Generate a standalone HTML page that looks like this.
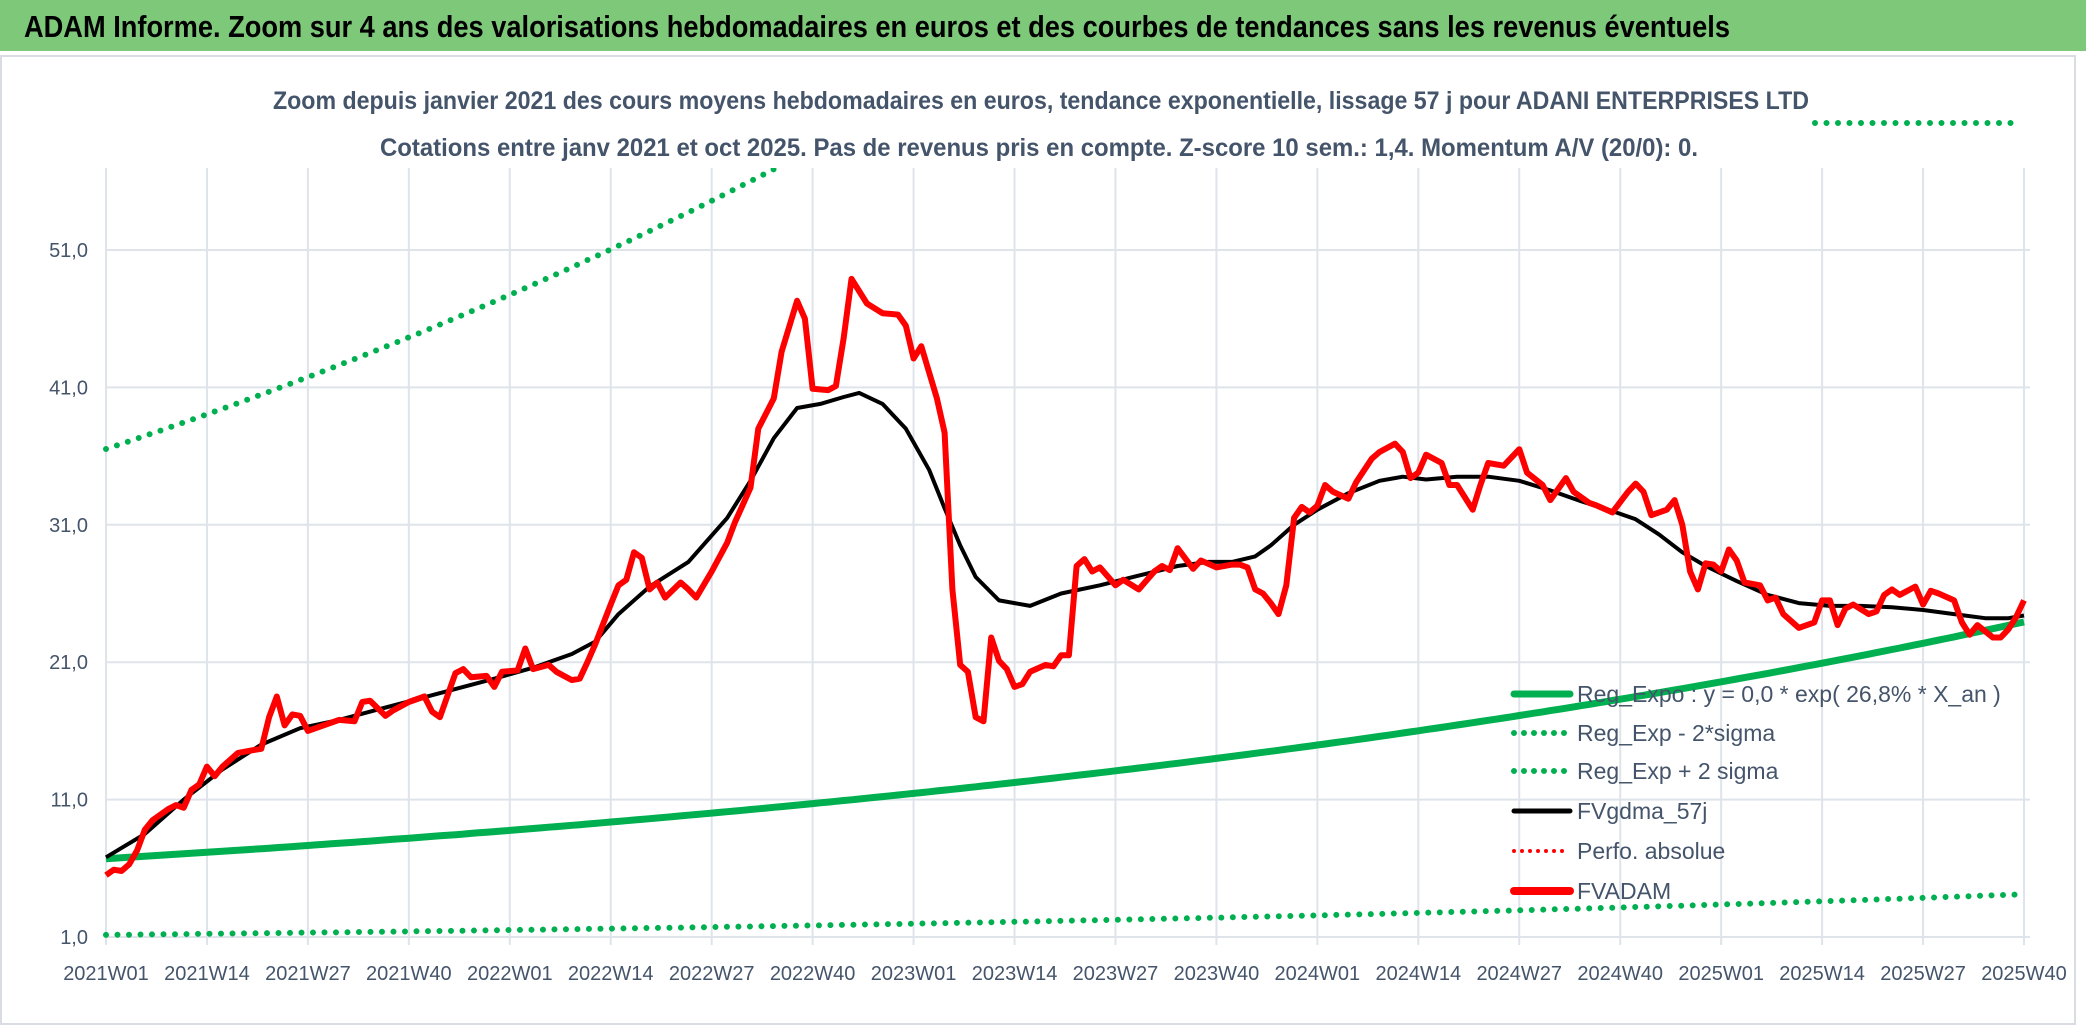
<!DOCTYPE html>
<html><head><meta charset="utf-8"><style>
html,body{margin:0;padding:0;background:#fff;}
svg{display:block;}
text{font-family:"Liberation Sans",sans-serif;}
</style></head><body>
<svg id="chart" width="2086" height="1031" viewBox="0 0 2086 1031">
<rect x="0" y="0" width="2086" height="1031" fill="#fff"/>
<rect x="0" y="0" width="2086" height="51" fill="#7ec87a"/>
<text x="24" y="37" font-size="31" font-weight="bold" fill="#000" textLength="1706" lengthAdjust="spacingAndGlyphs">ADAM Informe. Zoom sur 4 ans des valorisations hebdomadaires en euros et des courbes de tendances sans les revenus éventuels</text>
<rect x="1" y="56" width="2074" height="968" fill="none" stroke="#d9dde3" stroke-width="2"/>
<text x="1041" y="109" font-size="25" font-weight="bold" fill="#44546a" text-anchor="middle" textLength="1536" lengthAdjust="spacingAndGlyphs">Zoom depuis janvier 2021 des cours moyens hebdomadaires en euros, tendance exponentielle, lissage 57 j pour ADANI ENTERPRISES LTD</text>
<text x="1039" y="156" font-size="25" font-weight="bold" fill="#44546a" text-anchor="middle" textLength="1318" lengthAdjust="spacingAndGlyphs">Cotations entre janv 2021 et oct 2025. Pas de revenus pris en compte. Z-score 10 sem.: 1,4. Momentum A/V (20/0): 0.</text>
<defs><clipPath id="plotclip"><rect x="100" y="168" width="1935" height="790"/></clipPath></defs>
<g id="grid"></g>
<g id="axes"></g>
<g id="series" clip-path="url(#plotclip)"></g>
<g id="legend"></g>
</svg>
<script>
const xTickLabels = ["2021W01","2021W14","2021W27","2021W40","2022W01","2022W14","2022W27","2022W40","2023W01","2023W14","2023W27","2023W40","2024W01","2024W14","2024W27","2024W40","2025W01","2025W14","2025W27","2025W40"];
const yTicks = [1,11,21,31,41,51];
const yTickLabels = ["1,0","11,0","21,0","31,0","41,0","51,0"];
const priceWeeks = [0,1,2,3,4,5,6,8,9,10,11,12,13,14,15,17,19,20,21,22,23,24,25,26,28,30,32,33,34,36,37,39,41,42,43,45,46,47,49,50,51,53,54,55,57,58,60,61,62,63,65,66,67,68,69,70,71,72,74,75,76,78,80,81,83,84,86,87,89,90,91,93,94,95,96,98,100,102,103,104,105,106,107,108,109,110,111,112,113,114,115,116,117,118,119,121,122,123,124,125,126,127,128,130,131,133,135,136,137,138,140,141,143,145,146,147,148,149,150,151,152,153,154,155,156,157,158,160,161,163,164,166,167,168,169,170,172,173,174,176,177,178,180,182,183,185,186,188,189,191,192,194,196,197,198,199,201,202,203,204,205,206,207,208,209,210,211,213,214,215,216,218,220,221,222,223,224,225,227,228,229,230,231,233,234,235,236,238,239,240,241,243,244,245,246,247];
const priceValues = [5.5,5.9,5.8,6.3,7.3,8.8,9.5,10.3,10.6,10.4,11.7,12.1,13.4,12.7,13.4,14.4,14.6,14.7,17.0,18.5,16.4,17.2,17.1,16.0,16.4,16.8,16.7,18.1,18.2,17.1,17.5,18.1,18.5,17.4,17.0,20.2,20.5,19.9,20.0,19.2,20.3,20.4,22.0,20.5,20.8,20.3,19.7,19.8,21.0,22.3,25.2,26.6,27.0,29.0,28.6,26.3,26.8,25.7,26.8,26.3,25.7,27.6,29.7,31.2,33.7,38.0,40.2,43.6,47.3,46.0,40.9,40.8,41.1,44.6,48.9,47.1,46.4,46.3,45.5,43.1,44.0,42.1,40.2,37.7,26.3,20.8,20.3,17.0,16.7,22.8,21.1,20.5,19.2,19.4,20.3,20.8,20.7,21.5,21.5,28.0,28.5,27.6,27.9,26.6,27.0,26.3,27.6,28.0,27.7,29.3,27.8,28.4,27.9,28.1,28.1,27.9,26.3,26.0,25.3,24.5,26.6,31.5,32.3,31.9,32.4,33.9,33.4,32.9,34.1,35.8,36.3,36.9,36.3,34.4,34.8,36.1,35.5,33.9,33.9,32.1,33.9,35.5,35.3,36.5,34.8,33.9,32.8,34.4,33.4,32.6,32.4,31.9,33.4,34.0,33.4,31.7,32.1,32.8,31.0,27.6,26.3,28.2,28.1,27.6,29.2,28.4,26.8,26.6,25.5,25.7,24.5,23.5,23.9,25.5,25.5,23.7,24.9,25.2,24.5,24.7,25.9,26.3,25.9,26.5,25.2,26.2,26.0,25.5,23.9,23.0,23.7,22.8,22.8,23.4,24.3,25.5,24.8];
const smoothWeeks = [0,5,10,15,20,25,30,40,50,55,60,63,66,70,75,80,83,86,89,92,95,97,100,103,106,108,110,112,115,119,123,128,133,138,142,145,148,150,153,156,160,164,167,170,174,178,182,186,190,194,197,200,203,206,210,214,218,222,226,230,234,238,242,245,247];
const smoothValues = [6.8,8.5,11.0,13.2,15.0,16.2,16.8,18.3,19.8,20.6,21.6,22.5,24.5,26.5,28.3,31.5,34.2,37.3,39.5,39.8,40.3,40.6,39.8,38.0,35.0,32.2,29.5,27.2,25.5,25.1,26.0,26.6,27.3,28.0,28.3,28.3,28.7,29.5,31.0,32.1,33.3,34.2,34.5,34.3,34.5,34.5,34.2,33.5,32.7,32.0,31.4,30.3,29.0,28.0,26.9,25.9,25.3,25.1,25.1,25.0,24.8,24.5,24.2,24.2,24.4];
const regStart = [6.7];
const regRate = [0.268];
const bandFactors = [0.172, 5.45];
const nWeeks = 248;

const NS = "http://www.w3.org/2000/svg";
const X0 = 106, X1 = 2024, Y1v = 937, PX = 13.74;
function xs(w){ return X0 + w*(X1-X0)/(nWeeks-1); }
function ys(v){ return Y1v - (v-1)*PX; }
function mk(tag, attrs, parent){ const e=document.createElementNS(NS,tag); for(const k in attrs) e.setAttribute(k,attrs[k]); parent.appendChild(e); return e; }
const gridG=document.getElementById('grid'), axesG=document.getElementById('axes'), seriesG=document.getElementById('series'), legendG=document.getElementById('legend');

yTicks.forEach((v,i)=>{
  const l=mk('line',{x1:X0,x2:2030,y1:ys(v),y2:ys(v),stroke:'#dfe3ea','stroke-width':2},gridG);
  
  
  const t=mk('text',{x:88,y:ys(v)+7,'font-size':20,fill:'#44546a','text-anchor':'end'},axesG);
  t.textContent=yTickLabels[i];
  
  
});
xTickLabels.forEach((s,i)=>{
  const w=Math.min(i*13,nWeeks-1);
  const l=mk('line',{x1:xs(w),x2:xs(w),y1:168,y2:945,stroke:'#dfe3ea','stroke-width':2},gridG);
  
  
  const t=mk('text',{x:xs(w),y:980,'font-size':20,fill:'#44546a','text-anchor':'middle'},axesG);
  t.textContent=s;
  
  
});

function reg(w){ return regStart[0]*Math.exp(regRate[0]*w/52); }
function pathFrom(ws,vs){ return ws.map((w,i)=>(i?'L':'M')+xs(w).toFixed(1)+','+ys(vs[i]).toFixed(1)).join(''); }
const allW=[]; for(let w=0;w<nWeeks;w++) allW.push(w);
const lowV=allW.map(w=>reg(w)*bandFactors[0]);
const upV=allW.map(w=>reg(w)*bandFactors[1]);
const regV=allW.map(w=>reg(w));

const lo=mk('path',{d:pathFrom(allW,lowV),fill:'none',stroke:'#00b050','stroke-width':6,'stroke-linecap':'round','stroke-dasharray':'0 11.5'},seriesG);


const up=mk('path',{d:pathFrom(allW,upV),fill:'none',stroke:'#00b050','stroke-width':6,'stroke-linecap':'round','stroke-dasharray':'0 11.5'},seriesG);


const rg=mk('path',{d:pathFrom(allW,regV),fill:'none',stroke:'#00b050','stroke-width':7},seriesG);


const sm=mk('path',{d:pathFrom(smoothWeeks,smoothValues),fill:'none',stroke:'#000','stroke-width':4,'stroke-linejoin':'round'},seriesG);


const pr=mk('path',{d:pathFrom(priceWeeks,priceValues),fill:'none',stroke:'#ff0000','stroke-width':6,'stroke-linejoin':'round'},seriesG);



const topMarker=mk('line',{x1:1815,x2:2022,y1:123,y2:123,stroke:'#00b050','stroke-width':6,'stroke-linecap':'round','stroke-dasharray':'0 11.5'},axesG);



const legNames=["Reg_Expo : y = 0,0 * exp( 26,8% *  X_an )","Reg_Exp - 2*sigma","Reg_Exp + 2 sigma","FVgdma_57j","Perfo. absolue","FVADAM"];
const legColors=['#00b050','#00b050','#00b050','#000','#ff0000','#ff0000'];
const legDash=[null,'0 10','0 10',null,'0 8',null];
const legW=[7,6,6,5,4,8];
const legY=[694,733,771,811,851,891];
legNames.forEach((n,i)=>{
  const a={x1:1514,x2:1570,y1:legY[i],y2:legY[i],stroke:legColors[i],'stroke-width':legW[i],'stroke-linecap':'round'};
  if(legDash[i]) a['stroke-dasharray']=legDash[i];
  const l=mk('line',a,legendG);
  
  
  const t=mk('text',{x:1577,y:legY[i]+8,'font-size':23,fill:'#44546a'},legendG);
  t.textContent=n;
  
  
});
</script>
</body></html>
